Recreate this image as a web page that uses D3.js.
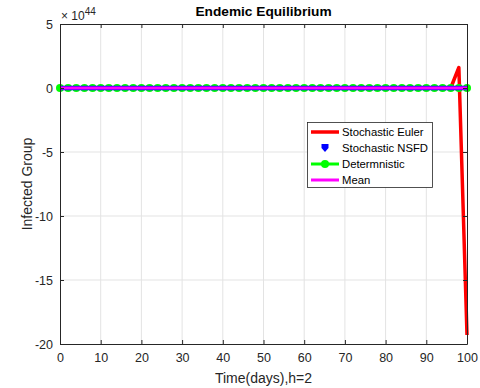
<!DOCTYPE html>
<html><head><meta charset="utf-8">
<script src="https://cdn.jsdelivr.net/npm/d3@7"></script>
<style>body{margin:0;background:#fff;}svg{display:block;font-family:"Liberation Sans",Arial,sans-serif;}</style>
</head><body>
<script>
const time = [0,2,4,6,8,10,12,14,16,18,20,22,24,26,28,30,32,34,36,38,40,42,44,46,48,50,52,54,56,58,60,62,64,66,68,70,72,74,76,78,80,82,84,86,88,90,92,94,96,98,100];
// values in units of 1e44
const eulerVals = [0,0,0,0,0,0,0,0,0,0,0,0,0,0,0,0,0,0,0,0,0,0,0,0,0,0,0,0,0,0,0,0,0,0,0,0,0,0,0,0,0,0,0,0,0,0,0,0,0,1.6,-19.3];
const nsfdVals = [0,0,0,0,0,0,0,0,0,0,0,0,0,0,0,0,0,0,0,0,0,0,0,0,0,0,0,0,0,0,0,0,0,0,0,0,0,0,0,0,0,0,0,0,0,0,0,0,0,0,0];
const detVals = [0,0,0,0,0,0,0,0,0,0,0,0,0,0,0,0,0,0,0,0,0,0,0,0,0,0,0,0,0,0,0,0,0,0,0,0,0,0,0,0,0,0,0,0,0,0,0,0,0,0,0];
const meanVals = [0,0,0,0,0,0,0,0,0,0,0,0,0,0,0,0,0,0,0,0,0,0,0,0,0,0,0,0,0,0,0,0,0,0,0,0,0,0,0,0,0,0,0,0,0,0,0,0,0,0,0];
const xTicks = [0,10,20,30,40,50,60,70,80,90,100];
const yTicks = [-20,-15,-10,-5,0,5];
const legendLabels = ["Stochastic Euler","Stochastic NSFD","Determnistic","Mean"];

const W=480,H=388, L=60,R=467,T=24,B=344;
const svg=d3.select("body").append("svg").attr("width",W).attr("height",H);
const x=d3.scaleLinear().domain([0,100]).range([L,R]);
const y=d3.scaleLinear().domain([-20,5]).range([B,T]);
const axc="#262626";
// grid
svg.append("g").selectAll("line").data(xTicks.slice(1,-1)).join("line")
 .attr("x1",d=>x(d)).attr("x2",d=>x(d)).attr("y1",T).attr("y2",B).attr("stroke","#e3e3e3");
svg.append("g").selectAll("line").data(yTicks.slice(1,-1)).join("line")
 .attr("y1",d=>y(d)).attr("y2",d=>y(d)).attr("x1",L).attr("x2",R).attr("stroke","#e3e3e3");

const line=(vals)=>d3.line().x((d,i)=>x(time[i])).y(d=>y(d))(vals);
const pg=svg.append("g");
pg.append("path").attr("d",line(eulerVals)).attr("fill","none").attr("stroke","#ff0000").attr("stroke-width",3.5).attr("stroke-linejoin","round");
pg.append("path").attr("d",line(detVals)).attr("fill","none").attr("stroke","#00ff00").attr("stroke-width",3);
pg.append("g").selectAll("circle").data(detVals).join("circle").attr("cx",(d,i)=>x(time[i])).attr("cy",d=>y(d)).attr("r",4).attr("fill","#00ff00");
pg.append("path").attr("d",line(nsfdVals)).attr("fill","none").attr("stroke","#0000ff").attr("stroke-width",4.5);
pg.append("path").attr("d",line(meanVals)).attr("fill","none").attr("stroke","#ff00ff").attr("stroke-width",3);

// axes box
const fmt=d=>String(d);
const xa=d3.axisBottom(x).tickValues(xTicks).tickSizeInner(-4).tickSizeOuter(0).tickPadding(9).tickFormat(fmt);
const ya=d3.axisLeft(y).tickValues(yTicks).tickSizeInner(-4).tickSizeOuter(0).tickPadding(7).tickFormat(fmt);
const xt=d3.axisTop(x).tickValues(xTicks).tickSizeInner(-4).tickSizeOuter(0).tickFormat("");
const yr=d3.axisRight(y).tickValues(yTicks).tickSizeInner(-4).tickSizeOuter(0).tickFormat("");
function style(g){g.selectAll("path,line").attr("stroke",axc);g.selectAll("text").attr("fill",axc).attr("font-size","12.5px").attr("font-family","Liberation Sans, Arial, sans-serif");}
svg.append("g").attr("transform",`translate(0,${B})`).call(xa).call(style);
svg.append("g").attr("transform",`translate(${L},0)`).call(ya).call(style);
svg.append("g").attr("transform",`translate(0,${T})`).call(xt).call(style);
svg.append("g").attr("transform",`translate(${R},0)`).call(yr).call(style);

// exponent
const ex=svg.append("text").attr("x",61).attr("y",20).attr("fill",axc).attr("font-size","12px");
ex.append("tspan").text("× 10");
ex.append("tspan").attr("dy",-5).attr("font-size","10px").text("44");

svg.append("text").attr("x",(L+R)/2).attr("y",16).attr("text-anchor","middle").attr("font-weight","bold").attr("font-size","13.7px").attr("fill","#000").text("Endemic Equilibrium");
svg.append("text").attr("x",(L+R)/2).attr("y",383).attr("text-anchor","middle").attr("font-size","14px").attr("fill",axc).text("Time(days),h=2");
svg.append("text").attr("transform",`translate(32,${(T+B)/2}) rotate(-90)`).attr("text-anchor","middle").attr("font-size","14px").attr("fill",axc).text("Infected Group");

// legend
const lg=svg.append("g");
lg.append("rect").attr("x",307.5).attr("y",122.5).attr("width",125).attr("height",65).attr("fill","#fff").attr("stroke",axc).attr("stroke-width",0.8);
const ly=[132,148,164,180];
const lx1=311,lx2=339;
lg.append("line").attr("x1",lx1).attr("x2",lx2).attr("y1",ly[0]).attr("y2",ly[0]).attr("stroke","#ff0000").attr("stroke-width",3.5);
lg.append("path").attr("d",`M${(lx1+lx2)/2-3.5},${ly[1]-4}h7v4l-3.5,4l-3.5,-4z`).attr("fill","#0000ff");
lg.append("line").attr("x1",lx1).attr("x2",lx2).attr("y1",ly[2]).attr("y2",ly[2]).attr("stroke","#00ff00").attr("stroke-width",3);
lg.append("circle").attr("cx",(lx1+lx2)/2).attr("cy",ly[2]).attr("r",4).attr("fill","#00ff00");
lg.append("line").attr("x1",lx1).attr("x2",lx2).attr("y1",ly[3]).attr("y2",ly[3]).attr("stroke","#ff00ff").attr("stroke-width",3);
lg.selectAll("text.l").data(legendLabels).join("text").attr("class","l").attr("x",342).attr("y",(d,i)=>ly[i]+4).attr("font-size","11.3px").attr("fill","#000").text(d=>d);
</script>
</body></html>
